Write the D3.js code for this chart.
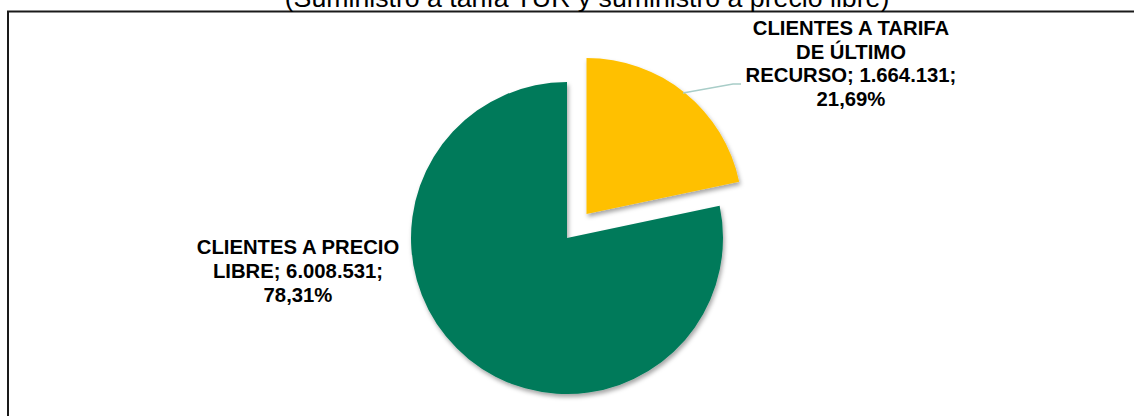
<!DOCTYPE html>
<html><head><meta charset="utf-8">
<script src="https://cdn.jsdelivr.net/npm/d3@7"></script>
<style>body{margin:0;background:#fff;}svg{display:block;}</style>
</head><body>
<svg id="c" width="1134" height="416"></svg>
<script>
const title = "(Suministro a tarifa TUR y suministro a precio libre)";
const categories = ["CLIENTES A TARIFA DE ÚLTIMO RECURSO", "CLIENTES A PRECIO LIBRE"];
const values = [1664131, 6008531];
const valueLabels = ["1.664.131", "6.008.531"];
const percentLabels = ["21,69%", "78,31%"];
const labelLines = [
  ["CLIENTES A TARIFA", "DE ÚLTIMO", "RECURSO; 1.664.131;", "21,69%"],
  ["CLIENTES A PRECIO", "LIBRE; 6.008.531;", "78,31%"]
];
const colors = ["#FFC000", "#007A5A"];

const svg = d3.select("#c");
const defs = svg.append("defs");
const f = defs.append("filter").attr("id","sh").attr("x","-20%").attr("y","-20%").attr("width","140%").attr("height","140%");
f.append("feDropShadow").attr("dx",1.5).attr("dy",3).attr("stdDeviation",2).attr("flood-color","#000").attr("flood-opacity",0.35);

// frame
svg.append("path").attr("d","M8,416 V11.5 H1134").attr("fill","none").attr("stroke","#1a1a1a").attr("stroke-width",2);

// title (clipped at top, as in the reference)
svg.append("text").attr("x",587).attr("y",7).attr("text-anchor","middle")
  .attr("font-family","Liberation Sans, Arial, sans-serif").attr("font-size",26.7).attr("fill","#000").text(title);

const cx = 567, cy = 238, r = 156, explode = 31;
const pie = d3.pie().sort(null).value(d => d)(values);
const arc = d3.arc().innerRadius(0).outerRadius(r);

const g = svg.append("g").attr("transform",`translate(${cx},${cy})`);
g.selectAll("path.s").data(pie).join("path").attr("class","s")
  .attr("transform", (d,i) => {
    if (i !== 0) return null;
    const a = (d.startAngle + d.endAngle)/2;
    return `translate(${Math.sin(a)*explode},${-Math.cos(a)*explode})`;
  })
  .attr("d", arc).attr("fill",(d,i)=>colors[i]).attr("filter","url(#sh)");

// leader line for first slice
svg.append("polyline").attr("points","683,93 733,84 741,84").attr("fill","none")
  .attr("stroke","#a8cdc8").attr("stroke-width",1.3);

const font = "Liberation Sans, Arial, sans-serif";
const labelPos = [{x:851, y:35, lh:23.5},{x:298, y:254, lh:24}];
labelLines.forEach((lines,i)=>{
  const t = svg.append("text").attr("text-anchor","middle").attr("font-family",font)
    .attr("font-weight","bold").attr("font-size",20.3).attr("fill","#000");
  lines.forEach((s,j)=>{
    t.append("tspan").attr("x",labelPos[i].x).attr("y",labelPos[i].y + j*labelPos[i].lh).text(s);
  });
});
</script>
</body></html>
